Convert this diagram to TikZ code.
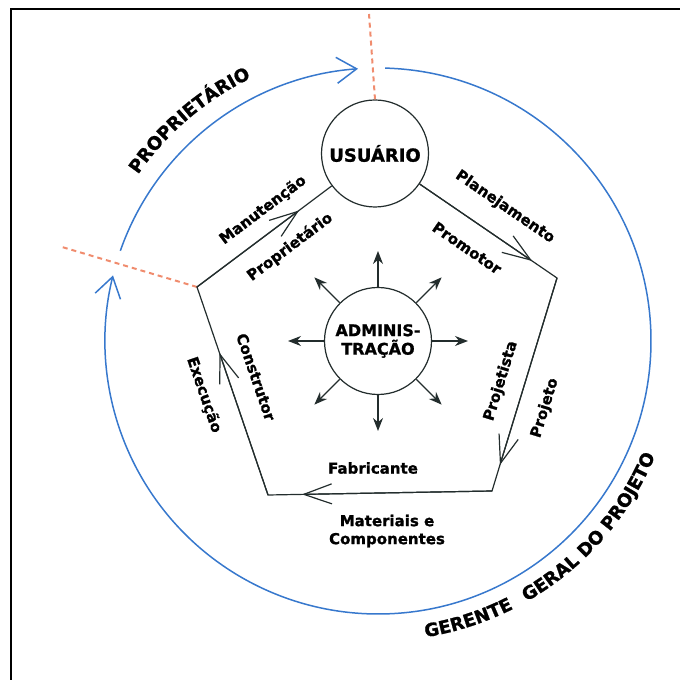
\documentclass[tikz,border=0pt]{standalone}
\usepackage{fontspec}
\setmainfont{DejaVu Sans}[BoldFeatures={FakeBold=1.2}]
\usetikzlibrary{arrows.meta,calc,decorations.text}
\definecolor{ringblue}{RGB}{55,120,205}
\definecolor{dashorange}{RGB}{240,140,110}
\definecolor{edgegray}{RGB}{35,45,45}
\newcommand\edgefnt{\bfseries\fontsize{15}{18}\selectfont}
\newcommand\nodefnt{\bfseries\fontsize{18}{20}\selectfont}
\newcommand\admfnt{\bfseries\fontsize{16}{18.5}\selectfont}
\newcommand\outfnt{\bfseries\fontsize{18}{20}\selectfont}
\begin{document}
\begin{tikzpicture}[x=1pt,y=1pt,
  bubble/.style={draw=edgegray, line width=1.2pt, circle, minimum size=107pt, inner sep=0pt, fill=white, align=center},
  edge/.style={draw=edgegray, line width=1.2pt},
  barb/.style={edge, -{Straight Barb[length=28pt,width=20pt]}},
  ring/.style={draw=ringblue, line width=1.5pt, -{Straight Barb[length=20pt,width=26pt]}},
  dashline/.style={draw=dashorange, line width=2pt, dash pattern=on 5pt off 4pt},
  radial/.style={draw=edgegray, line width=1.2pt, -{Stealth[length=13pt,width=10pt]}},
  lbl/.style={font=\edgefnt, inner sep=0pt},
  frame/.style={draw=black, line width=2.5pt}]
\useasboundingbox (0,0) rectangle (680,680);
% frame (top and left only)
\coordinate (FL) at (11,0);
\coordinate (FC) at (11,671);
\coordinate (FR) at (680,671);
\draw[frame] (FL) -- (FC) -- (FR);
% centre of the ring
\coordinate (C) at (378,339);
% outer ring
\draw[ring] ([shift={(88.5:273pt)}]C) arc[start angle=88.5, end angle=-193.9, radius=273pt];
\draw[ring] ([shift={(160.7:273pt)}]C) arc[start angle=160.7, end angle=94.2, radius=273pt];
% outer texts
\path[decorate, decoration={text along path, text={|\outfnt|PROPRIETÁRIO}, text align=center}]
  ([shift={(150.5:292pt)}]C) arc[start angle=150.5, end angle=110.5, radius=292pt];
\path[decorate, decoration={text along path, text={|\outfnt|GERENTE}, text align=center}]
  ([shift={(-92:300pt)}]C) arc[start angle=-92, end angle=-52, radius=300pt];
\path[decorate, decoration={text along path, text={|\outfnt|GERAL DO PROJETO}, text align=center}]
  ([shift={(-66.4:300pt)}]C) arc[start angle=-66.4, end angle=-16.4, radius=300pt];
% pentagon corners
\coordinate (P2) at (557,402);
\coordinate (P3) at (492,189);
\coordinate (P4) at (268,185);
\coordinate (P5) at (197,393);
\coordinate (DT) at (369,666);
\coordinate (DL) at (62,433);
% nodes
\node[bubble, font=\nodefnt] (U) at (375,526.5) {USUÁRIO};
\node[bubble, font=\admfnt] (A) at (378,339) {ADMINIS-\\TRAÇÃO};
% dashed orange lines
\draw[dashline] (U.north) -- (DT);
\draw[dashline] (P5) -- (DL);
% pentagon edges
\draw[edge] (U) -- (P2) -- (P3) -- (P4) -- (P5) -- (U);
\draw[barb] (P5) -- ($(P5)!0.573!(U)$);
\draw[barb] (U) -- ($(U)!0.863!(P2)$);
\draw[barb] (P2) -- ($(P2)!0.878!(P3)$);
\draw[barb] (P3) -- ($(P3)!0.848!(P4)$);
\draw[barb] (P4) -- ($(P4)!0.683!(P5)$);
% radial arrows
\foreach \a in {0,45,...,315}
  \draw[radial] (A.\a) -- ($(A)+(\a:90pt)$);
% edge labels
\node[lbl, rotate=37] at (263,470) {Manutenção};
\node[lbl, rotate=37] at (290,433) {Proprietário};
\node[lbl, rotate=-34.4] at (505,473) {Planejamento};
\node[lbl, rotate=-34.4] at (467,432) {Promotor};
\node[lbl, rotate=73] at (501,299) {Projetista};
\node[lbl, rotate=73] at (545,272) {Projeto};
\node[lbl, rotate=-71] at (256,303) {Construtor};
\node[lbl, rotate=-71] at (204,285) {Execução};
\node[lbl] at (373,212) {Fabricante};
\node[lbl, align=center] at (387,149) {Materiais e\\Componentes};
\end{tikzpicture}
\end{document}
